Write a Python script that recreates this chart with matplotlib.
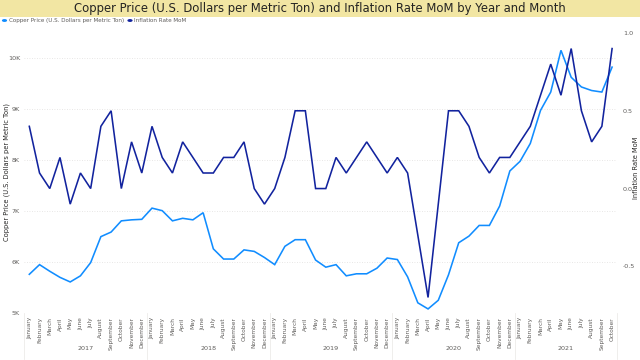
import matplotlib
matplotlib.use("Agg")
import matplotlib.pyplot as plt
from matplotlib.patches import Rectangle, Circle
from matplotlib.lines import Line2D


months = ["January", "February", "March", "April", "May", "June", "July",
          "August", "September", "October", "November", "December"]
years = ["2017", "2018", "2019", "2020", "2021"]
months_per_year = [12, 12, 12, 12, 10]

copper = [5760, 5950, 5820, 5700, 5610, 5730, 5990, 6500, 6590, 6810, 6830, 6840,
          7060, 7010, 6810, 6860, 6830, 6970, 6260, 6060, 6060, 6240, 6210, 6090,
          5950, 6310, 6440, 6440, 6040, 5900, 5950, 5730, 5770, 5770, 5880, 6080,
          6050, 5710, 5200, 5080, 5250, 5750, 6380, 6510, 6720, 6720, 7100, 7790,
          7980, 8330, 8980, 9340, 10160, 9630, 9440, 9370, 9340, 9830]

inflation = [0.4, 0.1, 0.0, 0.2, -0.1, 0.1, 0.0, 0.4, 0.5, 0.0, 0.3, 0.1,
             0.4, 0.2, 0.1, 0.3, 0.2, 0.1, 0.1, 0.2, 0.2, 0.3, 0.0, -0.1,
             0.0, 0.2, 0.5, 0.5, 0.0, 0.0, 0.2, 0.1, 0.2, 0.3, 0.2, 0.1,
             0.2, 0.1, -0.3, -0.7, -0.1, 0.5, 0.5, 0.4, 0.2, 0.1, 0.2, 0.2,
             0.3, 0.4, 0.6, 0.8, 0.6, 0.9, 0.5, 0.3, 0.4, 0.9]

left_ticks = [5000, 6000, 7000, 8000, 9000, 10000]
left_labels = ["5K", "6K", "7K", "8K", "9K", "10K"]
right_ticks = [-0.5, 0.0, 0.5, 1.0]
right_labels = ["-0.5", "0.0", "0.5", "1.0"]

COPPER_C = "#118DFF"
INFL_C = "#12239E"
GREY = "#605E5C"

W, H = 640, 360
fig = plt.figure(figsize=(W / 100, H / 100), dpi=100)

def fx(px):
    return px / W

def fy(py):
    return 1 - py / H

# title band
fig.patches.append(Rectangle((0, fy(17)), 1, 17 / H, transform=fig.transFigure,
                             facecolor="#F2E6A3", edgecolor="none", zorder=0))
fig.text(0.5, fy(8.5), "Copper Price (U.S. Dollars per Metric Ton) and Inflation Rate MoM by Year and Month",
         ha="center", va="center", fontsize=8.4, color="#252423")

# legend
fig.patches.append(Circle((fx(4.5), fy(20.5)), 2.6 / W, transform=fig.transFigure,
                          facecolor=COPPER_C, edgecolor="none"))
fig.text(fx(9), fy(20.5), "Copper Price (U.S. Dollars per Metric Ton)", ha="left", va="center",
         fontsize=4.1, color=GREY)
fig.patches.append(Circle((fx(130), fy(20.5)), 2.6 / W, transform=fig.transFigure,
                          facecolor=INFL_C, edgecolor="none"))
fig.text(fx(134), fy(20.5), "Inflation Rate MoM", ha="left", va="center", fontsize=4.1, color=GREY)

ax = fig.add_axes([fx(24.2), fy(313), fx(617.2) - fx(24.2), 280 / H])
ax2 = ax.twinx()

n = len(copper)
x = list(range(n))

ax.plot(x, copper, color=COPPER_C, lw=1.15, solid_joinstyle="miter", zorder=3)
ax2.plot(x, inflation, color=INFL_C, lw=1.15, solid_joinstyle="miter", zorder=3)

ax.set_xlim(-0.5, n - 0.5)
ax.set_ylim(5000, 10500)
ax2.set_ylim(-0.8, 1.0)

for a in (ax, ax2):
    for s in a.spines.values():
        s.set_visible(False)

ax.set_yticks(left_ticks)
ax.set_yticklabels(left_labels)
ax.tick_params(axis="y", length=0, labelsize=4.6, labelcolor=GREY, pad=3)
ax.grid(axis="y", color="#E1DFDD", lw=0.6, linestyle=(0, (1, 2)))
ax.set_axisbelow(True)

ax2.set_yticks(right_ticks)
ax2.set_yticklabels(right_labels)
ax2.tick_params(axis="y", length=0, labelsize=4.6, labelcolor=GREY, pad=4)

month_labels = [months[i % 12] for i in range(n)]
ax.set_xticks(x)
ax.set_xticklabels(month_labels, rotation=90, va="top", ha="center")
ax.tick_params(axis="x", length=0, labelsize=4.2, labelcolor=GREY, pad=3)

# year labels and separators
trans = ax.get_xaxis_transform()
start = 0
bounds = [-0.5]
for yr, cnt in zip(years, months_per_year):
    ax.text(start + (cnt - 1) / 2, -36 / 280, yr, transform=trans, ha="center", va="center",
            fontsize=4.6, color=GREY)
    start += cnt
    bounds.append(start - 0.5)
for b in bounds:
    ax.add_line(Line2D([b, b], [0, -46 / 280], transform=trans, color="#EDEBE9", lw=0.6,
                       clip_on=False))

fig.text(fx(7), fy(172), "Copper Price (U.S. Dollars per Metric Ton)", rotation=90, ha="center",
         va="center", fontsize=4.8, color="#252423")
fig.text(fx(636), fy(168), "Inflation Rate MoM", rotation=90, ha="center", va="center",
         fontsize=4.8, color="#252423")

fig.savefig("out.png", dpi=100, facecolor="white")
